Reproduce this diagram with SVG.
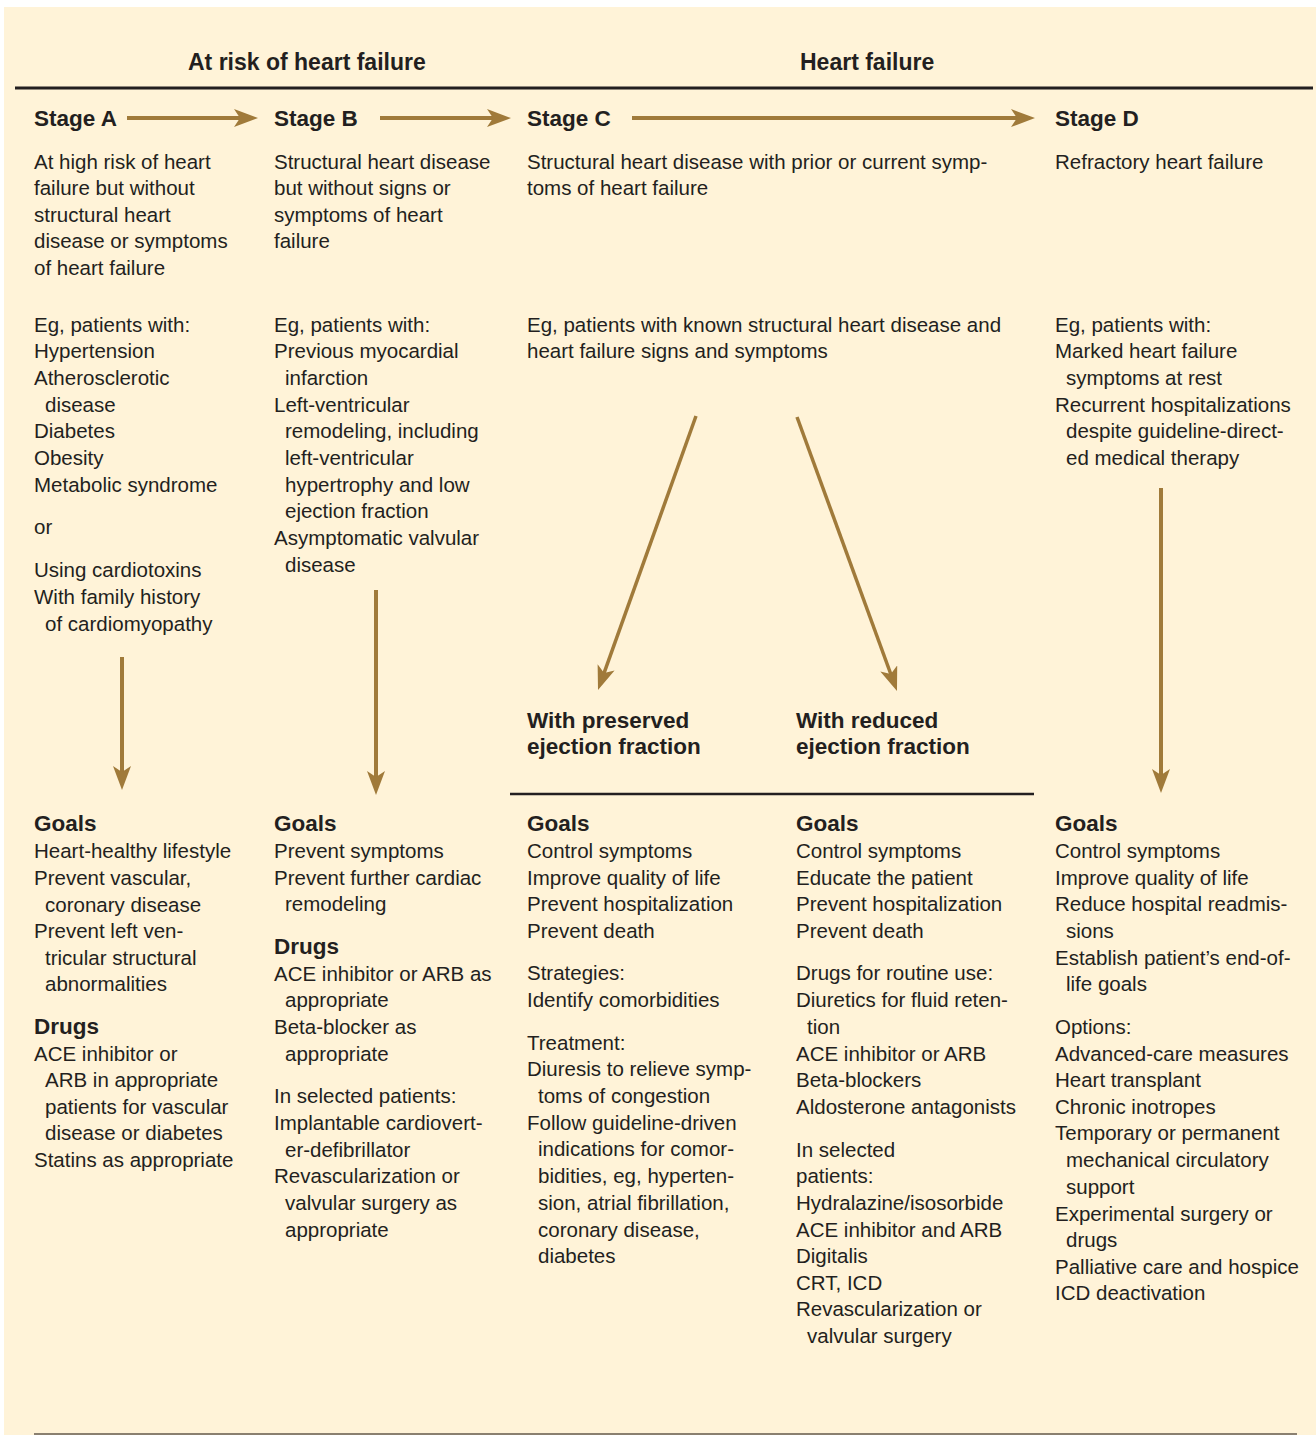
<svg xmlns="http://www.w3.org/2000/svg" width="1316" height="1435" viewBox="0 0 1316 1435">
<style>
text{font-family:"Liberation Sans",Arial,sans-serif;fill:#231F20;}
.b{font-size:20.5px;}
.h{font-size:22.5px;font-weight:bold;}
.ar{stroke:#A07A3A;stroke-width:4;fill:none;}
.rule{stroke:#231F20;stroke-width:3;}
</style>
<defs>
<marker id="ah" markerUnits="userSpaceOnUse" markerWidth="26" markerHeight="20" refX="8" refY="9" orient="auto">
<path d="M0,0 L24,9 L0,18 L6,9 Z" fill="#A07A3A"/>
</marker>
</defs>
<rect x="0" y="0" width="1316" height="1435" fill="#ffffff"/>
<rect x="4" y="7" width="1312" height="1428" fill="#FFF3D8"/>
<g id="headers">
<text class="h" x="188" y="70" style="font-size:23px">At risk of heart failure</text>
<text class="h" x="800" y="70" style="font-size:23px">Heart failure</text>
<line class="rule" x1="15" y1="88" x2="1313" y2="88"/>
</g>
<g id="stageA">
<text class="h" x="34" y="126">Stage A</text>
<text class="b"><tspan x="34" y="169">At high risk of heart</tspan><tspan x="34" y="195">failure but without</tspan><tspan x="34" y="222">structural heart</tspan><tspan x="34" y="248">disease or symptoms</tspan><tspan x="34" y="275">of heart failure</tspan></text>
<text class="b"><tspan x="34" y="332">Eg, patients with:</tspan><tspan x="34" y="358">Hypertension</tspan><tspan x="34" y="385">Atherosclerotic</tspan><tspan x="45" y="412">disease</tspan><tspan x="34" y="438">Diabetes</tspan><tspan x="34" y="465">Obesity</tspan><tspan x="34" y="492">Metabolic syndrome</tspan><tspan x="34" y="534">or</tspan><tspan x="34" y="577">Using cardiotoxins</tspan><tspan x="34" y="604">With family history</tspan><tspan x="45" y="631">of cardiomyopathy</tspan></text>
</g>
<g id="goalsA">
<text class="h" x="34" y="831">Goals</text>
<text class="b"><tspan x="34" y="858">Heart-healthy lifestyle</tspan><tspan x="34" y="885">Prevent vascular,</tspan><tspan x="45" y="912">coronary disease</tspan><tspan x="34" y="938">Prevent left ven-</tspan><tspan x="45" y="965">tricular structural</tspan><tspan x="45" y="991">abnormalities</tspan></text>
<text class="h" x="34" y="1034">Drugs</text>
<text class="b"><tspan x="34" y="1061">ACE inhibitor or</tspan><tspan x="45" y="1087">ARB in appropriate</tspan><tspan x="45" y="1114">patients for vascular</tspan><tspan x="45" y="1140">disease or diabetes</tspan><tspan x="34" y="1167">Statins as appropriate</tspan></text>
</g>
<g id="stageB">
<text class="h" x="274" y="126">Stage B</text>
<text class="b"><tspan x="274" y="169">Structural heart disease</tspan><tspan x="274" y="195">but without signs or</tspan><tspan x="274" y="222">symptoms of heart</tspan><tspan x="274" y="248">failure</tspan></text>
<text class="b"><tspan x="274" y="332">Eg, patients with:</tspan><tspan x="274" y="358">Previous myocardial</tspan><tspan x="285" y="385">infarction</tspan><tspan x="274" y="412">Left-ventricular</tspan><tspan x="285" y="438">remodeling, including</tspan><tspan x="285" y="465">left-ventricular</tspan><tspan x="285" y="492">hypertrophy and low</tspan><tspan x="285" y="518">ejection fraction</tspan><tspan x="274" y="545">Asymptomatic valvular</tspan><tspan x="285" y="572">disease</tspan></text>
</g>
<g id="goalsB">
<text class="h" x="274" y="831">Goals</text>
<text class="b"><tspan x="274" y="858">Prevent symptoms</tspan><tspan x="274" y="885">Prevent further cardiac</tspan><tspan x="285" y="911">remodeling</tspan></text>
<text class="h" x="274" y="954">Drugs</text>
<text class="b"><tspan x="274" y="981">ACE inhibitor or ARB as</tspan><tspan x="285" y="1007">appropriate</tspan><tspan x="274" y="1034">Beta-blocker as</tspan><tspan x="285" y="1061">appropriate</tspan><tspan x="274" y="1103">In selected patients:</tspan><tspan x="274" y="1130">Implantable cardiovert-</tspan><tspan x="285" y="1157">er-defibrillator</tspan><tspan x="274" y="1183">Revascularization or</tspan><tspan x="285" y="1210">valvular surgery as</tspan><tspan x="285" y="1237">appropriate</tspan></text>
</g>
<g id="stageC">
<text class="h" x="527" y="126">Stage C</text>
<text class="b"><tspan x="527" y="169">Structural heart disease with prior or current symp-</tspan><tspan x="527" y="195">toms of heart failure</tspan></text>
<text class="b"><tspan x="527" y="332">Eg, patients with known structural heart disease and</tspan><tspan x="527" y="358">heart failure signs and symptoms</tspan></text>
<line class="rule" x1="510" y1="794" x2="1034" y2="794" style="stroke-width:2.5"/>
</g>
<g id="preserved">
<text class="h"><tspan x="527" y="728">With preserved</tspan><tspan x="527" y="754">ejection fraction</tspan></text>
<text class="h" x="527" y="831">Goals</text>
<text class="b"><tspan x="527" y="858">Control symptoms</tspan><tspan x="527" y="885">Improve quality of life</tspan><tspan x="527" y="911">Prevent hospitalization</tspan><tspan x="527" y="938">Prevent death</tspan><tspan x="527" y="980">Strategies:</tspan><tspan x="527" y="1007">Identify comorbidities</tspan><tspan x="527" y="1050">Treatment:</tspan><tspan x="527" y="1076">Diuresis to relieve symp-</tspan><tspan x="538" y="1103">toms of congestion</tspan><tspan x="527" y="1130">Follow guideline-driven</tspan><tspan x="538" y="1156">indications for comor-</tspan><tspan x="538" y="1183">bidities, eg, hyperten-</tspan><tspan x="538" y="1210">sion, atrial fibrillation,</tspan><tspan x="538" y="1237">coronary disease,</tspan><tspan x="538" y="1263">diabetes</tspan></text>
</g>
<g id="reduced">
<text class="h"><tspan x="796" y="728">With reduced</tspan><tspan x="796" y="754">ejection fraction</tspan></text>
<text class="h" x="796" y="831">Goals</text>
<text class="b"><tspan x="796" y="858">Control symptoms</tspan><tspan x="796" y="885">Educate the patient</tspan><tspan x="796" y="911">Prevent hospitalization</tspan><tspan x="796" y="938">Prevent death</tspan><tspan x="796" y="980">Drugs for routine use:</tspan><tspan x="796" y="1007">Diuretics for fluid reten-</tspan><tspan x="807" y="1034">tion</tspan><tspan x="796" y="1061">ACE inhibitor or ARB</tspan><tspan x="796" y="1087">Beta-blockers</tspan><tspan x="796" y="1114">Aldosterone antagonists</tspan><tspan x="796" y="1157">In selected</tspan><tspan x="796" y="1183">patients:</tspan><tspan x="796" y="1210">Hydralazine/isosorbide</tspan><tspan x="796" y="1237">ACE inhibitor and ARB</tspan><tspan x="796" y="1263">Digitalis</tspan><tspan x="796" y="1290">CRT, ICD</tspan><tspan x="796" y="1316">Revascularization or</tspan><tspan x="807" y="1343">valvular surgery</tspan></text>
</g>
<g id="stageD">
<text class="h" x="1055" y="126">Stage D</text>
<text class="b" x="1055" y="169">Refractory heart failure</text>
<text class="b"><tspan x="1055" y="332">Eg, patients with:</tspan><tspan x="1055" y="358">Marked heart failure</tspan><tspan x="1066" y="385">symptoms at rest</tspan><tspan x="1055" y="412">Recurrent hospitalizations</tspan><tspan x="1066" y="438">despite guideline-direct-</tspan><tspan x="1066" y="465">ed medical therapy</tspan></text>
</g>
<g id="goalsD">
<text class="h" x="1055" y="831">Goals</text>
<text class="b"><tspan x="1055" y="858">Control symptoms</tspan><tspan x="1055" y="885">Improve quality of life</tspan><tspan x="1055" y="911">Reduce hospital readmis-</tspan><tspan x="1066" y="938">sions</tspan><tspan x="1055" y="965">Establish patient’s end-of-</tspan><tspan x="1066" y="991">life goals</tspan><tspan x="1055" y="1034">Options:</tspan><tspan x="1055" y="1061">Advanced-care measures</tspan><tspan x="1055" y="1087">Heart transplant</tspan><tspan x="1055" y="1114">Chronic inotropes</tspan><tspan x="1055" y="1140">Temporary or permanent</tspan><tspan x="1066" y="1167">mechanical circulatory</tspan><tspan x="1066" y="1194">support</tspan><tspan x="1055" y="1221">Experimental surgery or</tspan><tspan x="1066" y="1247">drugs</tspan><tspan x="1055" y="1274">Palliative care and hospice</tspan><tspan x="1055" y="1300">ICD deactivation</tspan></text>
</g>
<g id="connectors">
<line class="ar" x1="127" y1="118" x2="242" y2="118" marker-end="url(#ah)"/>
<line class="ar" x1="380" y1="118" x2="495" y2="118" marker-end="url(#ah)"/>
<line class="ar" x1="632" y1="118" x2="1019" y2="118" marker-end="url(#ah)"/>
<line class="ar" x1="122" y1="657" x2="122" y2="774" marker-end="url(#ah)"/>
<line class="ar" x1="376" y1="590" x2="376" y2="779" marker-end="url(#ah)"/>
<line class="ar" x1="1161" y1="488" x2="1161" y2="777" marker-end="url(#ah)"/>
<line class="ar" x1="696" y1="416" x2="603.4" y2="674.9" marker-end="url(#ah)" style="stroke-width:3.5"/>
<line class="ar" x1="797" y1="417" x2="891.5" y2="676" marker-end="url(#ah)" style="stroke-width:3.5"/>
</g>
<line x1="34" y1="1434" x2="1297" y2="1434" stroke="#8A8070" stroke-width="2"/>
</svg>
